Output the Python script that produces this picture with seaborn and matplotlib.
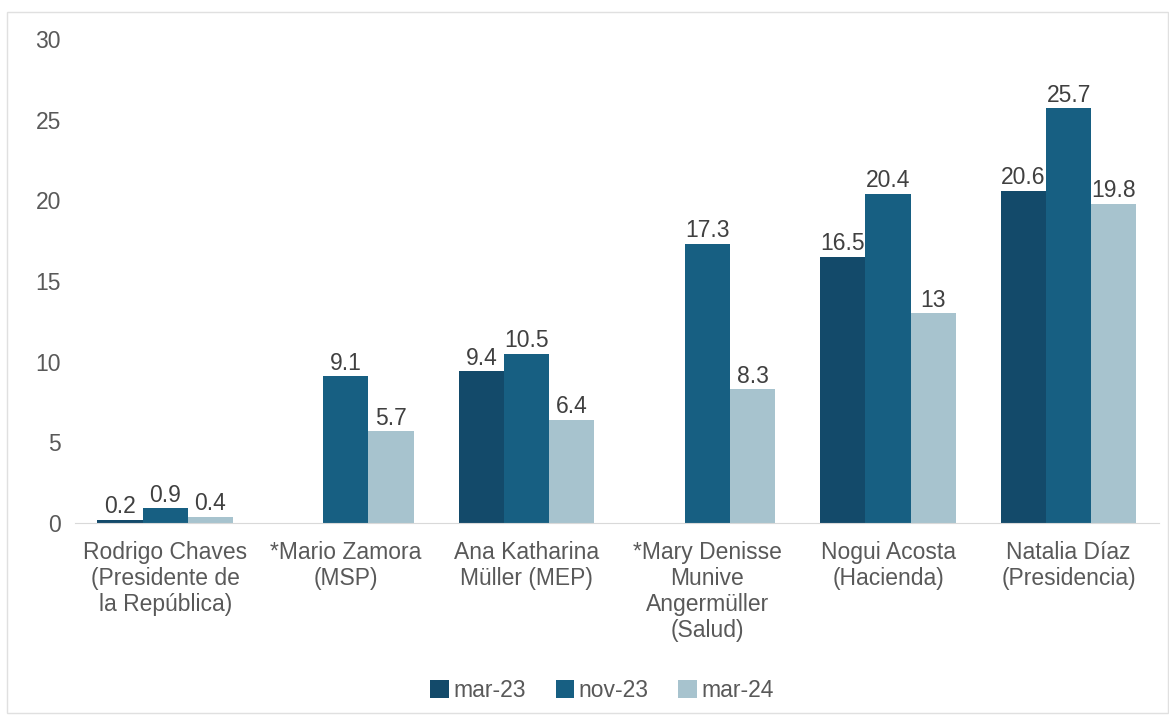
import numpy as np
import pandas as pd
import seaborn as sns
import matplotlib.pyplot as plt
from matplotlib.patches import Rectangle

categories = ["Rodrigo Chaves\n(Presidente de\nla República)",
              "*Mario Zamora\n(MSP)",
              "Ana Katharina\nMüller (MEP)",
              "*Mary Denisse\nMunive\nAngermüller\n(Salud)",
              "Nogui Acosta\n(Hacienda)",
              "Natalia Díaz\n(Presidencia)"]
periods = ["mar-23", "nov-23", "mar-24"]
mar23 = [0.2, np.nan, 9.4, np.nan, 16.5, 20.6]
nov23 = [0.9, 9.1, 10.5, 17.3, 20.4, 25.7]
mar24 = [0.4, 5.7, 6.4, 8.3, 13, 19.8]
colors = ["#134a6a", "#175f82", "#a7c3ce"]

rows = []
for p, vals in zip(periods, [mar23, nov23, mar24]):
    for c, v in zip(categories, vals):
        rows.append({"cat": c, "period": p, "value": v})
df = pd.DataFrame(rows)

sns.set_style("white")
plt.rcParams["font.family"] = ["Liberation Sans", "DejaVu Sans"]
fs = 16.5

fig = plt.figure(figsize=(11.69, 7.19), dpi=100)
ax = fig.add_axes([0.064, 0.2726, 0.9275, 0.6732])

sns.barplot(data=df, x="cat", y="value", hue="period", order=categories,
            hue_order=periods, palette=colors, width=0.75, saturation=1,
            linewidth=0, ax=ax)

for cont in ax.containers:
    ax.bar_label(cont, fmt=lambda v: f"{v:g}", padding=1, fontsize=fs,
                 color="#404040")

ax.set_ylim(0, 30)
ax.set_xlim(-0.5, 5.5)
ax.set_yticks(range(0, 31, 5))
ax.set_xlabel("")
ax.set_ylabel("")
ax.tick_params(axis="both", labelsize=fs, labelcolor="#595959", length=0)
ax.tick_params(axis="x", pad=13)
ax.tick_params(axis="y", pad=10)
plt.setp(ax.get_xticklabels(), linespacing=1.17)
for s in ["top", "right", "left"]:
    ax.spines[s].set_visible(False)
ax.spines["bottom"].set_color("#d9d9d9")

handles, labels = ax.get_legend_handles_labels()
ax.legend_.remove()
fig.legend(handles, labels, loc="center", bbox_to_anchor=(0.515, 0.040),
           ncol=3, frameon=False, fontsize=fs, handlelength=0.8,
           handleheight=0.8, handletextpad=0.2, columnspacing=1.3,
           labelcolor="#595959")

fig.patches.append(Rectangle((0.006, 0.009), 0.993, 0.974,
                             transform=fig.transFigure, fill=False,
                             edgecolor="#e0e0e0", linewidth=1))

fig.savefig("out.png", dpi=100)
